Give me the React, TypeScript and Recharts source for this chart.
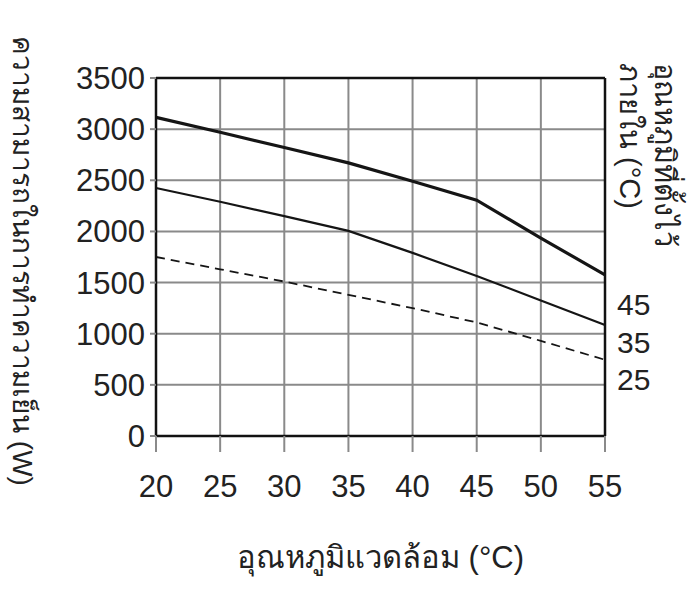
import {
  CartesianGrid,
  Label,
  Line,
  LineChart,
  ReferenceLine,
  XAxis,
  YAxis,
} from "recharts";

document.body.style.margin = "0";

const ambientTemps = [20, 25, 30, 35, 40, 45, 50, 55];
const capacity45 = [3115, 2970, 2820, 2670, 2490, 2305, 1935, 1575];
const capacity35 = [2425, 2290, 2150, 2005, 1790, 1565, 1325, 1085];
const capacity25 = [1750, 1630, 1510, 1380, 1250, 1110, 930, 745];
const yTicks = [0, 500, 1000, 1500, 2000, 2500, 3000, 3500];
const setpointLabels = ["45", "35", "25"];

const data = ambientTemps.map((t, i) => ({
  t,
  s45: capacity45[i],
  s35: capacity35[i],
  s25: capacity25[i],
}));

const FONT = "'Liberation Sans', Arial, 'Noto Sans', sans-serif";

const endLabel = (text: string, dy: number) => (props: any) => {
  const { x, y, index } = props;
  if (index !== ambientTemps.length - 1) return null;
  return (
    <text
      x={x + 12}
      y={y + dy}
      fontSize={30}
      fontFamily={FONT}
      fill="#222"
      dominantBaseline="central"
    >
      {text}
    </text>
  );
};

const LeftTitle = (props: any) => {
  const { viewBox } = props;
  const cx = viewBox.x + 22;
  const cy = viewBox.y + viewBox.height / 2 + 4;
  return (
    <text
      x={cx}
      y={cy}
      transform={`rotate(90, ${cx}, ${cy})`}
      textAnchor="middle"
      dominantBaseline="central"
      fontSize={28}
      fontFamily={FONT}
      fill="#222"
    >
      ความสามารถในการทำความเย็น (W)
    </text>
  );
};

const RightTitle = (props: any) => {
  const { viewBox } = props;
  const x1 = viewBox.x + 60;
  const x2 = viewBox.x + 25;
  const y0 = viewBox.y - 15;
  return (
    <g fontSize={29} fontFamily={FONT} fill="#222">
      <text
        x={x1}
        y={y0}
        transform={`rotate(90, ${x1}, ${y0})`}
        dominantBaseline="central"
      >
        อุณหภูมิที่ตั้งไว้
      </text>
      <text
        x={x2}
        y={y0}
        transform={`rotate(90, ${x2}, ${y0})`}
        dominantBaseline="central"
      >
        ภายใน (°C)
      </text>
    </g>
  );
};

const tickStyle = { fontSize: 31, fontFamily: FONT, fill: "#222" };

export default function App() {
  return (
    <div style={{ width: 700, height: 597, background: "#fff" }}>
      <LineChart
        width={700}
        height={597}
        data={data}
        margin={{ top: 78, right: 0, bottom: 0, left: 0 }}
      >
        <CartesianGrid yAxisId="left" stroke="#8a8a8a" strokeWidth={2} />
        <XAxis
          dataKey="t"
          type="number"
          domain={[20, 55]}
          ticks={ambientTemps}
          height={161}
          tickSize={16}
          tickMargin={23}
          tick={tickStyle}
          tickLine={{ stroke: "#8a8a8a", strokeWidth: 2 }}
          axisLine={{ stroke: "#111", strokeWidth: 2.5 }}
        >
          <Label
            value="อุณหภูมิแวดล้อม (°C)"
            position="insideBottom"
            offset={29}
            style={{ fontSize: 31, fontFamily: FONT, fill: "#222" }}
          />
        </XAxis>
        <YAxis
          yAxisId="left"
          domain={[0, 3500]}
          ticks={yTicks}
          width={156}
          tickSize={6}
          tickMargin={5}
          tick={tickStyle}
          tickLine={{ stroke: "#8a8a8a", strokeWidth: 2 }}
          axisLine={{ stroke: "#111", strokeWidth: 2.5 }}
          interval={0}
        >
          <Label content={LeftTitle} />
        </YAxis>
        <YAxis
          yAxisId="right"
          orientation="right"
          domain={[0, 3500]}
          width={95}
          tick={false}
          tickLine={false}
          axisLine={{ stroke: "#111", strokeWidth: 2.5 }}
        >
          <Label content={RightTitle} />
        </YAxis>
        <ReferenceLine
          yAxisId="left"
          y={3500}
          stroke="#111"
          strokeWidth={2.5}
        />
        <Line
          yAxisId="left"
          dataKey="s45"
          stroke="#151515"
          strokeWidth={3.2}
          dot={false}
          isAnimationActive={false}
          label={endLabel(setpointLabels[0], 30)}
        />
        <Line
          yAxisId="left"
          dataKey="s35"
          stroke="#151515"
          strokeWidth={2.2}
          dot={false}
          isAnimationActive={false}
          label={endLabel(setpointLabels[1], 17)}
        />
        <Line
          yAxisId="left"
          dataKey="s25"
          stroke="#151515"
          strokeWidth={1.8}
          strokeDasharray="9 6"
          dot={false}
          isAnimationActive={false}
          label={endLabel(setpointLabels[2], 20)}
        />
      </LineChart>
    </div>
  );
}
